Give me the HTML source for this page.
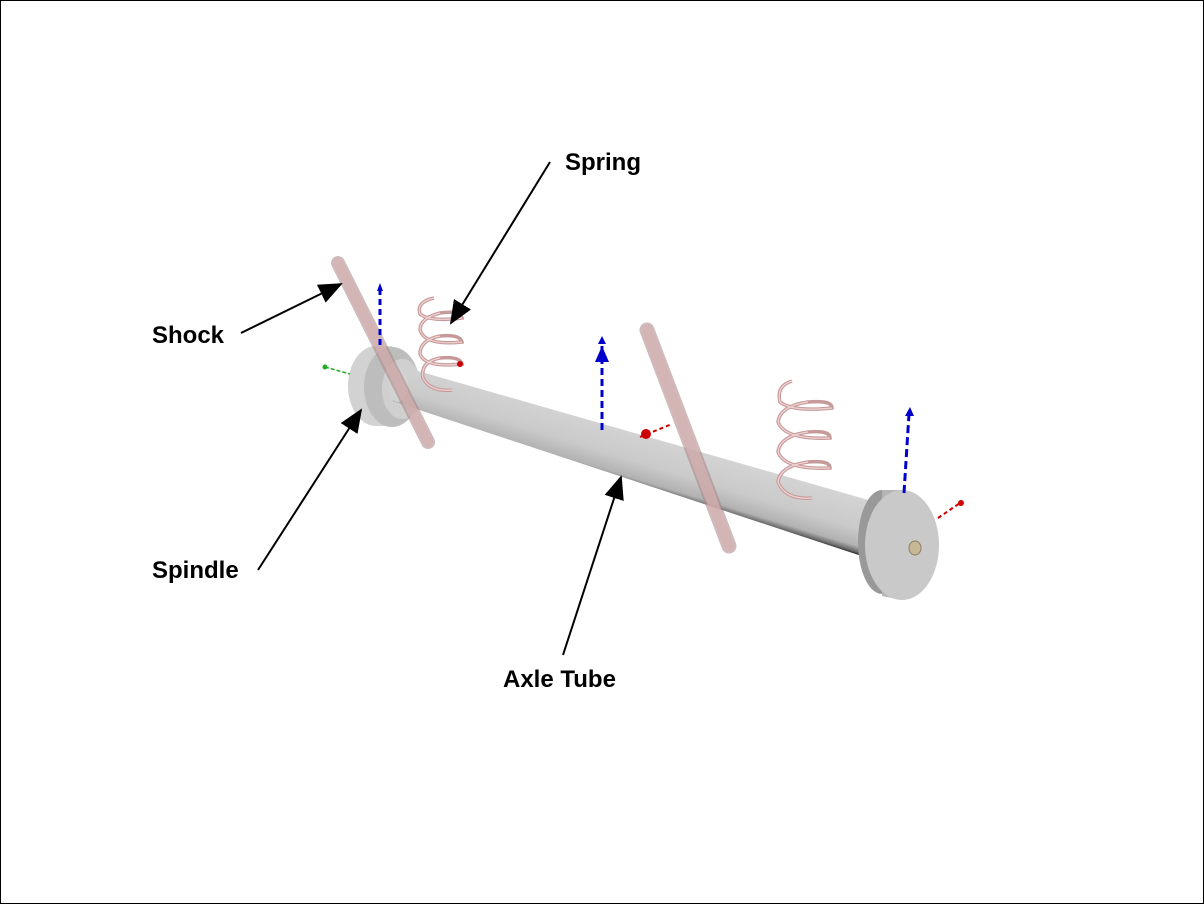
<!DOCTYPE html>
<html><head><meta charset="utf-8"><style>
html,body{margin:0;padding:0;background:#fff}
svg{display:block}
text{font-family:"Liberation Sans",sans-serif;font-weight:bold;font-size:24px;fill:#000}
</style></head><body>
<svg width="1204" height="904" viewBox="0 0 1204 904" xmlns="http://www.w3.org/2000/svg">
<defs>
<linearGradient id="tube" x1="0" y1="0" x2="0" y2="1">
<stop offset="0" stop-color="#d4d4d4"/><stop offset="0.55" stop-color="#cacaca"/><stop offset="0.85" stop-color="#b2b2b2"/><stop offset="0.95" stop-color="#6a6a6a"/><stop offset="1" stop-color="#222"/>
</linearGradient>
<marker id="ah" markerWidth="24" markerHeight="20" refX="22" refY="10" orient="auto" markerUnits="userSpaceOnUse" viewBox="0 0 24 20">
<path d="M0,0 L24,10 L0,20z" fill="#000"/></marker>
</defs>
<rect x="0.5" y="0.5" width="1203" height="903" fill="#fff" stroke="#000" stroke-width="1"/>

<!-- left spindle disk -->
<ellipse cx="376" cy="386" rx="28" ry="40" fill="#d2d2d2"/>
<rect x="376" y="346" width="16" height="80" fill="#d2d2d2"/>
<ellipse cx="392" cy="387" rx="28" ry="40" fill="#bdbdbd"/>
<ellipse cx="402" cy="389" rx="20" ry="30" fill="#d0d0d0"/>

<!-- axle tube -->
<g transform="translate(398,384) rotate(16.9)">
<path d="M0,-18 L500,-26 L500,30 L0,18 Z" fill="url(#tube)"/>
</g>
<ellipse cx="398" cy="384" rx="10" ry="18" fill="#d2d2d2"/>

<!-- right spindle disk -->
<ellipse cx="882" cy="542" rx="24" ry="52" fill="#999"/>
<path d="M882,490 L902,490 L902,600 L882,596 Z" fill="#b5b5b5"/>
<ellipse cx="902" cy="545" rx="37" ry="55" fill="#c9c9c9"/>
<ellipse cx="915" cy="548" rx="6" ry="7" fill="#c9b895" stroke="#8d7f65"/>

<!-- shocks -->
<line x1="338" y1="263" x2="428" y2="442" stroke="#a88484" stroke-width="14" stroke-linecap="round" opacity="0.55"/>
<line x1="338" y1="263" x2="428" y2="442" stroke="#d7b3b3" stroke-width="10" stroke-linecap="round" opacity="0.7"/>
<line x1="647" y1="330" x2="729" y2="546" stroke="#a88484" stroke-width="15" stroke-linecap="round" opacity="0.55"/>
<line x1="647" y1="330" x2="729" y2="546" stroke="#d7b3b3" stroke-width="11" stroke-linecap="round" opacity="0.7"/>

<!-- springs -->
<g fill="none" stroke="#c79a9a" stroke-width="3.5">
<path d="M434,298 Q416,302 420,314 Q430,322 462,318 Q460,310 440,313 Q420,318 420,330 Q425,346 462,342 Q460,334 440,336 Q420,340 420,354 Q425,368 462,364 Q460,356 440,358 Q420,362 423,378 Q430,392 452,390"/>
<path d="M792,381 Q776,386 780,402 Q792,412 832,408 Q832,400 808,402 Q780,406 778,422 Q785,440 830,438 Q830,430 808,432 Q780,436 778,452 Q785,470 830,468 Q830,460 808,462 Q780,466 778,482 Q785,500 812,498"/>
</g>
<g fill="none" stroke="#f0d4d4" stroke-width="1.2">
<path d="M434,298 Q416,302 420,314 Q430,322 462,318 M440,313 Q420,318 420,330 Q425,346 462,342 M440,336 Q420,340 420,354 Q425,368 462,364 M440,358 Q420,362 423,378 Q430,392 452,390"/>
<path d="M792,381 Q776,386 780,402 Q792,412 832,408 M808,402 Q780,406 778,422 Q785,440 830,438 M808,432 Q780,436 778,452 Q785,470 830,468 M808,462 Q780,466 778,482 Q785,500 812,498"/>
</g>

<!-- blue axis arrows -->
<g stroke-width="3">
<line x1="380" y1="345" x2="380" y2="290" stroke="#0000cc" stroke-dasharray="6,4"/>
<line x1="602" y1="430" x2="602" y2="342" stroke="#0000cc" stroke-dasharray="7,4"/>
<line x1="904" y1="493" x2="909" y2="414" stroke="#0000cc" stroke-dasharray="8,4"/>
</g>
<path d="M377,291 L380,283 L383,291z" fill="#0000cc"/>
<path d="M598,344 L602,336 L606,344z" fill="#0000cc"/>
<path d="M595,362 L602,346 L609,362z" fill="#0000cc"/>
<path d="M905,416 L910,407 L914,416z" fill="#0000cc"/>
<!-- red / green -->
<line x1="640" y1="437" x2="672" y2="424" stroke="#c00" stroke-width="2" stroke-dasharray="4,3"/>
<circle cx="646" cy="434" r="5" fill="#c00"/>
<line x1="938" y1="518" x2="960" y2="503" stroke="#c00" stroke-width="2" stroke-dasharray="4,3"/>
<circle cx="961" cy="503" r="3" fill="#c00"/>
<line x1="325" y1="367" x2="350" y2="374" stroke="#2a2" stroke-width="1.5" stroke-dasharray="4,2"/>
<circle cx="325" cy="367" r="2.5" fill="#2a2"/>
<circle cx="460" cy="364" r="3" fill="#c00"/>

<!-- callout arrows -->
<g stroke="#000" stroke-width="2" marker-end="url(#ah)" fill="none">
<line x1="550" y1="162" x2="451" y2="323"/>
<line x1="241" y1="333" x2="341" y2="284"/>
<line x1="258" y1="570" x2="361" y2="410"/>
<line x1="563" y1="655" x2="621" y2="477"/>
</g>

<text x="565" y="170">Spring</text>
<text x="152" y="343">Shock</text>
<text x="152" y="578">Spindle</text>
<text x="503" y="687">Axle Tube</text>
</svg>
</body></html>
